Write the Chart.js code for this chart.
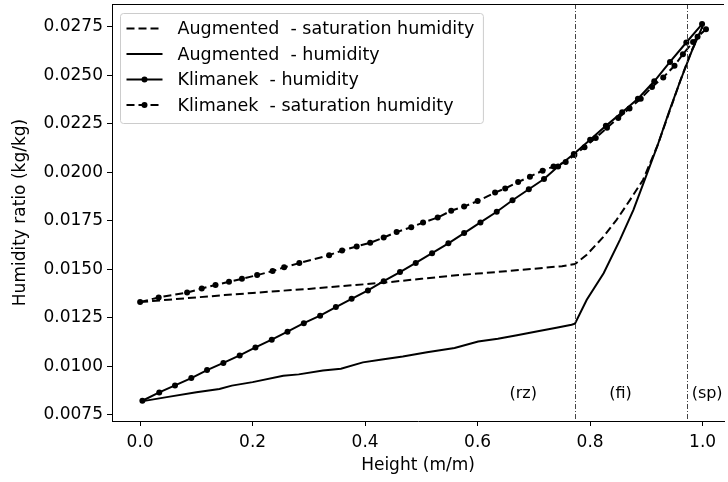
<!DOCTYPE html>
<html>
<head>
<meta charset="utf-8">
<script src="https://cdn.jsdelivr.net/npm/chart.js@4/dist/chart.umd.min.js"></script>
<style>
  html, body { margin: 0; padding: 0; background: #fff; overflow: hidden; }
  canvas { display: block; }
</style>
</head>
<body>
<canvas id="humidityChart" width="728" height="482"></canvas>
<script>
// Augmented model - saturation humidity
const augSatX = [0.0, 0.05, 0.10, 0.15, 0.20, 0.25, 0.30, 0.35, 0.40, 0.45, 0.50, 0.55, 0.60, 0.65, 0.70, 0.75,
    0.773, 0.794, 0.824, 0.847, 0.871, 0.894, 0.92, 0.94, 0.96, 0.98, 1.0];
const augSatY = [0.01331, 0.01343, 0.01355, 0.01367, 0.01378, 0.01389, 0.01399, 0.01411, 0.01423, 0.01436, 0.01451,
    0.01466, 0.01478, 0.01490, 0.01503, 0.01516, 0.01527, 0.01575, 0.01669, 0.01755, 0.01858, 0.01961, 0.0214,
    0.02305, 0.0247, 0.02625, 0.02748];

// Augmented model - humidity
const augHumX = [0.005, 0.05, 0.10, 0.141, 0.163, 0.20, 0.2545, 0.282, 0.325, 0.357, 0.396, 0.43, 0.467, 0.51,
    0.559, 0.601, 0.636, 0.67, 0.707, 0.74, 0.767, 0.773, 0.794, 0.824, 0.853, 0.877, 0.897, 0.92, 0.94, 0.96,
    0.98, 1.0];
const augHumY = [0.0082, 0.00842, 0.00866, 0.00883, 0.0090, 0.00918, 0.00951, 0.00958, 0.00978, 0.00987, 0.0102,
    0.01035, 0.0105, 0.01072, 0.01094, 0.01128, 0.01142, 0.0116, 0.0118, 0.01198, 0.01214, 0.0122, 0.01343, 0.0148,
    0.01652, 0.01807, 0.01961, 0.0214, 0.0231, 0.0247, 0.0262, 0.02755];

// Klimanek - humidity
const kliHumX = [0.004, 0.034, 0.062, 0.091, 0.119, 0.148, 0.177, 0.205, 0.234, 0.262, 0.291, 0.320, 0.348, 0.376,
    0.405, 0.433, 0.462, 0.490, 0.519, 0.548, 0.576, 0.605, 0.634, 0.662, 0.691, 0.718, 0.743, 0.771, 0.800, 0.828,
    0.857, 0.885, 0.914, 0.942, 0.971, 0.999];
const kliHumY = [0.00822, 0.00865, 0.00901, 0.00939, 0.00980, 0.01017, 0.01056, 0.01097, 0.01137, 0.01178, 0.01222,
    0.01261, 0.01305, 0.01348, 0.01391, 0.01439, 0.01486, 0.01533, 0.01583, 0.01634, 0.01687, 0.01742, 0.01797,
    0.01856, 0.01913, 0.01966, 0.0203, 0.02095, 0.02168, 0.0224, 0.0231, 0.0238, 0.0247, 0.0257, 0.0267, 0.02765];

// Klimanek - saturation humidity
const kliSatX = [0.0, 0.033, 0.0835, 0.1096, 0.134, 0.158, 0.181, 0.208, 0.2355, 0.256, 0.283, 0.336, 0.359, 0.385,
    0.409, 0.433, 0.456, 0.482, 0.503, 0.529, 0.553, 0.576, 0.600, 0.631, 0.649, 0.672, 0.693, 0.7155, 0.735, 0.7566,
    0.772, 0.79, 0.81, 0.83, 0.85, 0.87, 0.89, 0.91, 0.93, 0.95, 0.965, 0.983, 0.991, 1.006];
const kliSatY = [0.01331, 0.01355, 0.0138, 0.01401, 0.01419, 0.01436, 0.01451, 0.0147, 0.01491, 0.0151, 0.01532,
    0.01573, 0.01597, 0.01618, 0.01637, 0.01664, 0.01692, 0.01717, 0.01741, 0.01767, 0.01802, 0.01824, 0.01852,
    0.01896, 0.01917, 0.0195, 0.01978, 0.02009, 0.0203, 0.02054, 0.0209, 0.0213, 0.02178, 0.0223, 0.0228, 0.0233,
    0.0238, 0.0244, 0.0249, 0.0255, 0.0261, 0.02672, 0.0270, 0.02738];

const seriesNames = ["Augmented  - saturation humidity", "Augmented  - humidity",
    "Klimanek  - humidity", "Klimanek  - saturation humidity"];

// zone boundaries and their labels
const zoneBounds = [0.773, 0.972];
const zoneLabels = ["(rz)", "(fi)", "(sp)"];
const zoneLabelX = [0.681, 0.854, 1.008];
const zoneLabelY = 0.0086;

const xTicks = [0.0, 0.2, 0.4, 0.6, 0.8, 1.0];
const yTicks = [0.0075, 0.0100, 0.0125, 0.0150, 0.0175, 0.0200, 0.0225, 0.0250, 0.0275];

const FONT = "'DejaVu Sans', sans-serif";
const FONT_SIZE = 17;

function pairs(xs, ys) {
    return xs.map(function (x, i) { return { x: x, y: ys[i] }; });
}

// zone lines, labels, top spine and the legend box
const decorations = {
    id: "decorations",
    afterDatasetsDraw: function (chart) {
        const ctx = chart.ctx;
        const area = chart.chartArea;
        const xs = chart.scales.x;
        const ys = chart.scales.y;

        ctx.save();
        ctx.strokeStyle = "#444";
        ctx.lineWidth = 1;
        ctx.setLineDash([5, 2, 1, 2]);
        zoneBounds.forEach(function (b) {
            const px = Math.round(xs.getPixelForValue(b)) + 0.5;
            ctx.beginPath();
            ctx.moveTo(px, area.top);
            ctx.lineTo(px, area.bottom);
            ctx.stroke();
        });
        ctx.setLineDash([]);

        ctx.fillStyle = "#000";
        ctx.font = "16px " + FONT;
        ctx.textAlign = "center";
        ctx.textBaseline = "middle";
        zoneLabels.forEach(function (t, i) {
            ctx.fillText(t, xs.getPixelForValue(zoneLabelX[i]), ys.getPixelForValue(zoneLabelY));
        });

        ctx.strokeStyle = "#000";
        ctx.lineWidth = 1;
        ctx.beginPath();
        ctx.moveTo(area.left, area.top + 0.5);
        ctx.lineTo(area.right, area.top + 0.5);
        ctx.stroke();

        // legend
        const bx = area.left + 8.5, by = area.top + 9.5;
        const rowH = 25.5;
        ctx.font = "17.5px " + FONT;
        let maxW = 0;
        chart.data.datasets.forEach(function (ds) {
            maxW = Math.max(maxW, ctx.measureText(ds.label).width);
        });
        const bw = 57 + maxW + 9, bh = rowH * 4 + 8;
        ctx.beginPath();
        ctx.roundRect(bx, by, bw, bh, 3);
        ctx.fillStyle = "rgba(255,255,255,0.8)";
        ctx.fill();
        ctx.strokeStyle = "#ccc";
        ctx.stroke();

        chart.data.datasets.forEach(function (ds, i) {
            const cy = by + 15 + i * rowH;
            ctx.strokeStyle = "#000";
            ctx.lineWidth = ds.borderWidth;
            ctx.setLineDash(ds.borderDash || []);
            ctx.beginPath();
            ctx.moveTo(bx + 6, cy);
            ctx.lineTo(bx + 42, cy);
            ctx.stroke();
            ctx.setLineDash([]);
            if (ds.pointRadius > 0) {
                ctx.beginPath();
                ctx.arc(bx + 24, cy, ds.pointRadius, 0, Math.PI * 2);
                ctx.fillStyle = "#000";
                ctx.fill();
            }
            ctx.fillStyle = "#000";
            ctx.textAlign = "left";
            ctx.fillText(ds.label, bx + 57, cy + 1);
        });
        ctx.restore();
    }
};

const canvas = document.getElementById("humidityChart");
const ctx = canvas.getContext("2d");
new Chart(ctx, {
    type: "line",
    data: {
        datasets: [
            {
                label: seriesNames[0],
                data: pairs(augSatX, augSatY),
                borderColor: "#000",
                borderWidth: 2,
                borderDash: [8, 4],
                pointRadius: 0,
            },
            {
                label: seriesNames[1],
                data: pairs(augHumX, augHumY),
                borderColor: "#000",
                borderWidth: 2,
                pointRadius: 0,
            },
            {
                label: seriesNames[2],
                data: pairs(kliHumX, kliHumY),
                borderColor: "#000",
                borderWidth: 2,
                pointRadius: 3,
                pointBackgroundColor: "#000",
                pointBorderWidth: 0,
            },
            {
                label: seriesNames[3],
                data: pairs(kliSatX, kliSatY),
                borderColor: "#000",
                borderWidth: 2,
                borderDash: [8, 4],
                pointRadius: 3,
                pointBackgroundColor: "#000",
                pointBorderWidth: 0,
            },
        ],
    },
    options: {
        responsive: false,
        animation: false,
        devicePixelRatio: 1,
        layout: { padding: { top: 4, left: 0, right: 0, bottom: 0 } },
        elements: { line: { tension: 0 } },
        plugins: {
            legend: { display: false },
            tooltip: { enabled: false },
        },
        scales: {
            x: {
                type: "linear",
                min: -0.05,
                max: 1.038,
                afterBuildTicks: function (scale) {
                    scale.ticks = xTicks.map(function (v) { return { value: v }; });
                },
                afterFit: function (scale) {
                    scale.height = 61;
                    scale.paddingLeft = 0;
                    scale.paddingRight = 0;
                },
                ticks: {
                    color: "#000",
                    font: { family: FONT, size: FONT_SIZE },
                    padding: 6,
                    maxRotation: 0,
                    callback: function (v) { return v.toFixed(1); },
                },
                grid: { drawOnChartArea: false, drawTicks: true, tickLength: 5, tickColor: "#000" },
                border: { display: true, color: "#000", width: 1 },
                title: {
                    display: true,
                    text: "Height (m/m)",
                    color: "#000",
                    font: { family: FONT, size: FONT_SIZE },
                    padding: { top: 0, bottom: 6 },
                },
            },
            y: {
                type: "linear",
                min: 0.007175,
                max: 0.028686,
                afterBuildTicks: function (scale) {
                    scale.ticks = yTicks.map(function (v) { return { value: v }; });
                },
                afterFit: function (scale) {
                    scale.width = 112;
                    scale.paddingTop = 0;
                    scale.paddingBottom = 0;
                },
                ticks: {
                    color: "#000",
                    font: { family: FONT, size: FONT_SIZE },
                    padding: 4,
                    callback: function (v) { return v.toFixed(4); },
                },
                grid: { drawOnChartArea: false, drawTicks: true, tickLength: 5, tickColor: "#000" },
                border: { display: true, color: "#000", width: 1 },
                title: {
                    display: true,
                    text: "Humidity ratio (kg/kg)",
                    color: "#000",
                    font: { family: FONT, size: FONT_SIZE },
                    padding: { top: 10, bottom: 0 },
                },
            },
        },
    },
    plugins: [decorations],
});
</script>
</body>
</html>
